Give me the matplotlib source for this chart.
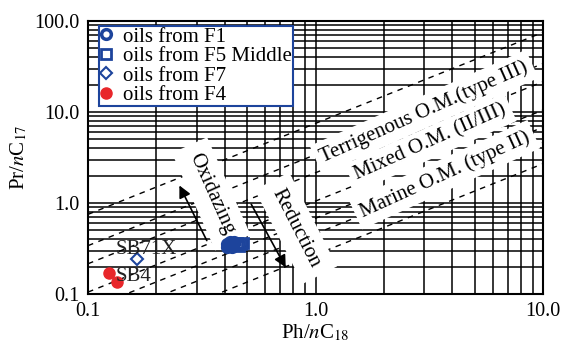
import numpy as np
import matplotlib.pyplot as plt
from matplotlib.ticker import FixedLocator, NullFormatter

plt.switch_backend("Agg")
plt.rcParams['font.family'] = ['Liberation Serif', 'DejaVu Serif']
plt.rcParams['mathtext.fontset'] = 'stix'

# Sample values
f1_x = [0.41, 0.42, 0.42, 0.43, 0.43, 0.44, 0.41, 0.44]
f1_y = [0.35, 0.34, 0.37, 0.33, 0.36, 0.35, 0.33, 0.37]
f5_x = [0.45, 0.46, 0.47, 0.48]
f5_y = [0.36, 0.34, 0.35, 0.36]
f7_x = [0.165]
f7_y = [0.245]
f4_x = [0.124, 0.134]
f4_y = [0.170, 0.136]

# Pr/Ph ratios of the dashed guide lines (y = k * x)
guide_k = [7.5, 3.4, 2.15, 1.05, 0.68, 0.46, 0.27]

x_ticks = [0.1, 1.0, 10.0]
x_labels = ['0.1', '1.0', '10.0']
y_ticks = [0.1, 1.0, 10.0, 100.0]
y_labels = ['0.1', '1.0', '10.0', '100.0']

blue = '#1d449c'
red = '#e8262a'

fig = plt.figure(figsize=(5.63, 3.47), dpi=100)
ax = fig.add_axes([0.1563, 0.1527, 0.8082, 0.7868])
ax.set_xscale('log')
ax.set_yscale('log')
ax.set_xlim(0.1, 10)
ax.set_ylim(0.1, 100)

ax.xaxis.set_major_locator(FixedLocator(x_ticks))
ax.yaxis.set_major_locator(FixedLocator(y_ticks))
ax.set_xticklabels(x_labels, fontsize=14.5)
ax.set_yticklabels(y_labels, fontsize=14.5)
ax.xaxis.set_minor_formatter(NullFormatter())
ax.yaxis.set_minor_formatter(NullFormatter())
ax.tick_params(which='both', length=0, pad=6)
ax.grid(which='both', color='black', lw=1.1)
ax.set_axisbelow(True)
for s in ax.spines.values():
    s.set_linewidth(1.5)

xs = np.array([0.1, 10.0])
for k in guide_k:
    ax.plot(xs, k * xs, color='black', lw=1.0, ls=(0, (4, 4)), zorder=2)

box = dict(facecolor='white', edgecolor='none', pad=4)
ax.text(3.0, 10.0, 'Terrigenous O.M.(type III)', rotation=24, fontsize=15,
        ha='center', va='center', rotation_mode='anchor', bbox=box, zorder=3)
ax.text(3.2, 4.6, 'Mixed O.M. (II/III)', rotation=24, fontsize=15,
        ha='center', va='center', rotation_mode='anchor', bbox=box, zorder=3)
ax.text(3.7, 2.05, 'Marine O.M. (type II)', rotation=24.5, fontsize=15,
        ha='center', va='center', rotation_mode='anchor', bbox=box, zorder=3)
ax.text(0.348, 1.26, 'Oxidazing', rotation=-66, fontsize=15,
        ha='center', va='center', rotation_mode='anchor',
        bbox=dict(facecolor='white', edgecolor='none', pad=7), zorder=3)
ax.text(0.82, 0.53, 'Reduction', rotation=-63, fontsize=15,
        ha='center', va='center', rotation_mode='anchor',
        bbox=dict(facecolor='white', edgecolor='none', pad=7), zorder=3)

arrow = dict(arrowstyle='-|>', color='black', lw=1.2, mutation_scale=18)
ax.annotate('', xy=(0.249, 1.66), xytext=(0.337, 0.363), arrowprops=arrow, zorder=4)
ax.annotate('', xy=(0.75, 0.184), xytext=(0.515, 1.03), arrowprops=arrow, zorder=4)

ax.plot(f1_x, f1_y, 'o', ms=7, mfc='none', mec=blue, mew=2.5, ls='none',
        label='oils from F1', zorder=5)
ax.plot(f5_x, f5_y, 's', ms=7, mfc='none', mec=blue, mew=2.0, ls='none',
        label='oils from F5 Middle', zorder=5)
ax.plot(f7_x, f7_y, 'D', ms=6, mfc='none', mec=blue, mew=1.5, ls='none',
        label='oils from F7', zorder=5)
ax.plot(f4_x, f4_y, 'o', ms=8, color=red, ls='none',
        label='oils from F4', zorder=5)

ax.text(0.132, 0.275, 'SB71X', fontsize=15, color='#222222', zorder=6)
ax.text(0.132, 0.139, 'SB4', fontsize=15, color='#222222', zorder=6)

leg = ax.legend(loc='upper left', bbox_to_anchor=(0.024, 0.982), borderaxespad=0,
                fontsize=15, labelspacing=0.0, handlelength=0.6,
                handletextpad=0.5, borderpad=0.05, fancybox=False, framealpha=1)
leg.get_frame().set_edgecolor(blue)
leg.get_frame().set_linewidth(1.5)
leg.set_zorder(7)

ax.set_xlabel(r'Ph/$n$C$_{18}$', fontsize=15, labelpad=1)
ax.set_ylabel(r'Pr/$n$C$_{17}$', fontsize=15, labelpad=4)

fig.savefig('out.png', dpi=100)
